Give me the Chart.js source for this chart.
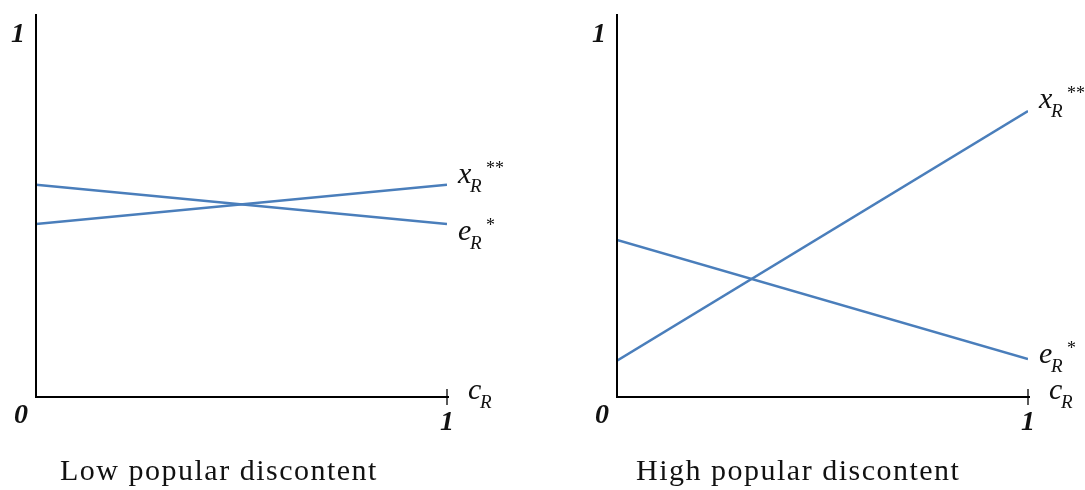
<!DOCTYPE html>
<html>
<head>
<meta charset="utf-8">
<script src="https://cdn.jsdelivr.net/npm/chart.js@4.4.0/dist/chart.umd.min.js"></script>
<style>
  body { margin: 0; background: #fff; width: 1085px; height: 490px; position: relative; overflow: hidden; }
  .panel { position: absolute; top: 0; width: 542px; height: 490px; }
  #left { left: 0; }
  #right { left: 543px; }
  .title { position: absolute; top: 453px; font-family: "Liberation Serif", serif; font-size: 30px; letter-spacing: 1.5px; color: #111; white-space: nowrap; }
</style>
</head>
<body>
<div class="panel" id="left"><canvas id="lowChart"></canvas></div>
<div class="panel" id="right"><canvas id="highChart"></canvas></div>
<div class="title" style="left:60px">Low popular discontent</div>
<div class="title" style="left:636px">High popular discontent</div>
<script>
// cost c_R runs from 0 to 1
const cR = [0, 1];
// low popular discontent
const lowX = [0.478, 0.586];
const lowE = [0.586, 0.478];
// high popular discontent
const highX = [0.10, 0.79];
const highE = [0.434, 0.105];
const axisTicks = ['0', '1'];

const lineBlue = '#4a7ebb';

// draws a label like x_R** made of base, subscript and superscript
function drawSymbol(ctx, x, baseY, base, sub, sup) {
  ctx.fillStyle = '#111';
  ctx.textBaseline = 'alphabetic';
  ctx.textAlign = 'left';
  ctx.font = 'italic 30px "Liberation Serif"';
  ctx.fillText(base, x, baseY);
  ctx.font = 'italic 19px "Liberation Serif"';
  ctx.fillText(sub, x + 12, baseY + 9);
  if (sup) {
    ctx.font = '18px "Liberation Serif"';
    ctx.fillText(sup, x + 28, baseY - 9);
  }
}

const axesPlugin = {
  id: 'axesPlugin',
  afterDraw(chart, args, opts) {
    const ctx = chart.ctx;
    const xs = chart.scales.x, ys = chart.scales.y;
    const x0 = xs.getPixelForValue(0), x1 = xs.getPixelForValue(1);
    const y0 = ys.getPixelForValue(0), y1 = ys.getPixelForValue(1);
    const top = chart.chartArea.top;
    ctx.save();
    ctx.strokeStyle = '#000';
    ctx.lineWidth = 2;
    ctx.beginPath();
    ctx.moveTo(x0, top);
    ctx.lineTo(x0, y0);
    ctx.lineTo(x1 + 2, y0);
    ctx.stroke();
    ctx.lineWidth = 1.3;
    ctx.beginPath();
    ctx.moveTo(x1, y0 - 8);
    ctx.lineTo(x1, y0 + 8);
    ctx.stroke();

    // tick numbers
    ctx.fillStyle = '#111';
    ctx.font = 'bold italic 28px "Liberation Serif"';
    ctx.textAlign = 'center';
    ctx.textBaseline = 'middle';
    ctx.fillText(axisTicks[1], x0 - 18, y1);
    ctx.fillText(axisTicks[0], x0 - 15, y0 + 19);
    ctx.fillText(axisTicks[1], x1, y0 + 26);

    // axis name
    drawSymbol(ctx, x1 + 21, y0 + 2, 'c', 'R', null);

    // line end labels
    chart.data.datasets.forEach((ds, i) => {
      const last = ds.data[ds.data.length - 1];
      const px = xs.getPixelForValue(last.x);
      const py = ys.getPixelForValue(last.y);
      drawSymbol(ctx, px + 11, py + opts.dy[i], ds.label, 'R', opts.sup[i]);
    });
    ctx.restore();
  }
};

function makeChart(id, xVals, eVals, pad, dy) {
  new Chart(document.getElementById(id), {
    type: 'line',
    data: {
      datasets: [
        { label: 'x', data: cR.map((c, i) => ({ x: c, y: xVals[i] })) },
        { label: 'e', data: cR.map((c, i) => ({ x: c, y: eVals[i] })) }
      ].map(d => Object.assign(d, {
        borderColor: lineBlue, borderWidth: 2.5, pointRadius: 0, tension: 0, fill: false
      }))
    },
    options: {
      responsive: false,
      animation: false,
      layout: { padding: pad },
      plugins: {
        legend: { display: false },
        tooltip: { enabled: false },
        axesPlugin: { dy: dy, sup: ['**', '*'] }
      },
      scales: {
        x: { type: 'linear', min: 0, max: 1, display: false },
        y: { type: 'linear', min: 0, max: 1.058, display: false }
      }
    },
    plugins: [axesPlugin]
  });
}

document.getElementById('lowChart').width = 542;
document.getElementById('lowChart').height = 490;
document.getElementById('highChart').width = 542;
document.getElementById('highChart').height = 490;

makeChart('lowChart', lowX, lowE, { left: 36, right: 95, top: 14, bottom: 93 }, [-2, 16]);
makeChart('highChart', highX, highE, { left: 74, right: 57, top: 14, bottom: 93 }, [-3, 4]);
</script>
</body>
</html>
